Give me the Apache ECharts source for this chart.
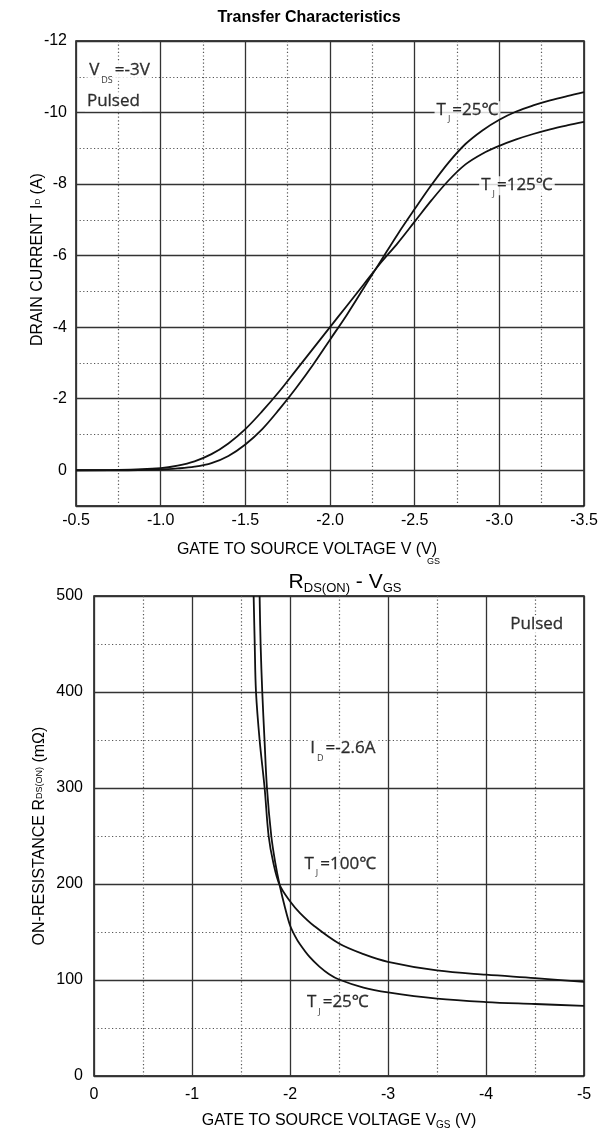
<!DOCTYPE html>
<html>
<head>
<meta charset="utf-8">
<script src="https://cdn.jsdelivr.net/npm/echarts@6/dist/echarts.min.js"></script>
<style>
  html, body { margin: 0; padding: 0; background: #fff; }
  #chart { width: 601px; height: 1131px; }
</style>
</head>
<body>
<div id="chart"></div>
<script>
// transfer characteristics, Id vs Vgs
let vgsTransfer = [-0.5, -0.75, -1.0, -1.1, -1.2, -1.3, -1.4, -1.5, -1.6, -1.7, -1.8, -1.9, -2.0, -2.1, -2.2, -2.3, -2.4, -2.5, -2.6, -2.7, -2.8, -2.9, -3.0, -3.1, -3.2, -3.3, -3.4, -3.5]
let id25 = [0, 0, -0.02, -0.05, -0.1, -0.2, -0.4, -0.72, -1.15, -1.7, -2.3, -2.95, -3.65, -4.35, -5.1, -5.85, -6.6, -7.3, -7.98, -8.6, -9.12, -9.5, -9.8, -10.03, -10.2, -10.34, -10.46, -10.57]
let id125 = [0, -0.01, -0.06, -0.13, -0.25, -0.45, -0.75, -1.15, -1.65, -2.2, -2.8, -3.4, -4.0, -4.6, -5.2, -5.8, -6.35, -6.95, -7.55, -8.1, -8.55, -8.85, -9.07, -9.25, -9.4, -9.53, -9.64, -9.74]

// on-resistance vs Vgs
let vgsR25 = [-1.69, -1.70, -1.717, -1.74, -1.765, -1.809, -1.85, -1.894, -1.95, -2.0, -2.05, -2.1, -2.2, -2.3, -2.4, -2.5, -2.75, -3.0, -3.5, -4.0, -4.5, -5.0]
let r25 = [500, 450, 400, 350, 300, 250, 222, 199, 175, 157, 146, 137.5, 124, 114, 106, 100.5, 92, 87, 80.5, 77, 75, 73]
let vgsR100 = [-1.629, -1.64, -1.653, -1.69, -1.741, -1.782, -1.83, -1.894, -2.0, -2.1, -2.25, -2.5, -2.75, -3.0, -3.5, -4.0, -4.5, -5.0]
let r100 = [500, 450, 400, 350, 300, 250, 222, 199, 182, 170, 156, 138, 127, 119, 110, 105.5, 102, 98]

let transferTicks = [-3.5, -3.0, -2.5, -2.0, -1.5, -1.0, -0.5]
let rdsTicks = [-5, -4, -3, -2, -1, 0]

function zip(xs, ys) {
    return xs.map((x, i) => [x, ys[i]])
}

let font = 'Liberation Sans, Arial, sans-serif'
let noteFont = 'Open Sans, Noto Sans, sans-serif'

let subRich = {
    m: {fontSize: 17, fontFamily: noteFont, color: '#000', lineHeight: 19, verticalAlign: 'top',
        textBorderColor: '#000', textBorderWidth: 0.3},
    s: {fontSize: 9, fontFamily: noteFont, color: '#000', lineHeight: 10, verticalAlign: 'top', padding: [14, 2, 0, 2],
        textBorderWidth: 0},
}

function note(gridIdx, x, y, text) {
    return {
        type: 'scatter',
        xAxisIndex: gridIdx,
        yAxisIndex: gridIdx,
        symbolSize: 0,
        silent: true,
        z: 3,
        data: [[x, y]],
        label: {
            show: true,
            position: 'inside',
            formatter: text,
            color: '#000',
            textBorderWidth: 0,
            backgroundColor: '#fff',
            padding: [0, 2, 0, 2],
            rich: subRich,
        },
    }
}

function curve(gridIdx, xs, ys) {
    return {
        type: 'line',
        xAxisIndex: gridIdx,
        yAxisIndex: gridIdx,
        data: zip(xs, ys),
        showSymbol: false,
        smooth: 0.35,
        silent: true,
        z: 5,
        lineStyle: {color: '#111', width: 1.8},
    }
}

let majorLine = {show: true, lineStyle: {color: '#333', width: 1.3}}
let minorLine = {show: true, lineStyle: {color: '#555', width: 1.2, type: [1.2, 2.4]}}

let chart = echarts.init(document.getElementById('chart'))
chart.setOption({
    animation: false,
    backgroundColor: '#fff',
    title: [
        {
            text: 'Transfer Characteristics',
            left: 304, top: 5, textAlign: 'center',
            textStyle: {fontFamily: font, fontSize: 16, fontWeight: 'bold', color: '#000'},
        },
        {
            text: 'R{s|DS(ON)} - V{s|GS}',
            left: 340, top: 565, textAlign: 'center',
            textStyle: {
                fontFamily: font, fontSize: 21, fontWeight: 'normal', color: '#000',
                rich: {s: {fontFamily: font, fontSize: 13, color: '#000', verticalAlign: 'bottom', padding: [12, 0, 0, 0]}},
            },
        },
    ],
    grid: [
        {left: 76, right: 17, top: 41, height: 465, show: true, borderColor: '#000', borderWidth: 1.4},
        {left: 94, right: 17, top: 596, height: 480, show: true, borderColor: '#000', borderWidth: 1.4},
    ],
    xAxis: [
        {
            gridIndex: 0, type: 'value', min: -3.5, max: -0.5, interval: 0.5, inverse: true,
            axisLine: {show: false}, axisTick: {show: false},
            axisLabel: {margin: 7, fontFamily: font, fontSize: 16, color: '#000',
                formatter: v => transferTicks.includes(v) ? v.toFixed(1) : ''},
            splitLine: majorLine,
            minorTick: {show: false, splitNumber: 2},
            minorSplitLine: minorLine,
            name: 'GATE TO SOURCE VOLTAGE V (V)',
            nameLocation: 'middle', nameGap: 36, nameMoveOverlap: false,
            nameTextStyle: {fontFamily: font, fontSize: 16, color: '#000', padding: [0, 46, 0, 0]},
        },
        {
            gridIndex: 1, type: 'value', min: -5, max: 0, interval: 1, inverse: true,
            axisLine: {show: false}, axisTick: {show: false},
            axisLabel: {margin: 11, fontFamily: font, fontSize: 16, color: '#000',
                formatter: v => rdsTicks.includes(v) ? String(v) : ''},
            splitLine: majorLine,
            minorTick: {show: false, splitNumber: 2},
            minorSplitLine: minorLine,
            name: 'GATE TO SOURCE VOLTAGE V{s|GS} (V)',
            nameLocation: 'middle', nameGap: 36, nameMoveOverlap: false,
            nameTextStyle: {fontFamily: font, fontSize: 16, color: '#000',
                rich: {s: {fontFamily: font, fontSize: 10, color: '#000', verticalAlign: 'bottom', padding: [8, 0, 0, 0]}}},
        },
    ],
    yAxis: [
        {
            gridIndex: 0, type: 'value', min: -12, max: 1, interval: 2, inverse: true,
            axisLine: {show: false}, axisTick: {show: false},
            axisLabel: {margin: 9, fontFamily: font, fontSize: 16, color: '#000', showMaxLabel: false},
            splitLine: majorLine,
            minorTick: {show: false, splitNumber: 2},
            minorSplitLine: minorLine,
            name: 'DRAIN CURRENT I{d|D} (A)',
            nameLocation: 'middle', nameGap: 30, nameMoveOverlap: false,
            nameTextStyle: {fontFamily: font, fontSize: 16, color: '#000', padding: [0, 0, 0, 28],
                rich: {d: {fontFamily: font, fontSize: 8, color: '#000'}}},
        },
        {
            gridIndex: 1, type: 'value', min: 0, max: 500, interval: 100,
            axisLine: {show: false}, axisTick: {show: false},
            axisLabel: {margin: 11, fontFamily: font, fontSize: 16, color: '#000'},
            splitLine: majorLine,
            minorTick: {show: false, splitNumber: 2},
            minorSplitLine: minorLine,
            name: 'ON-RESISTANCE R{d|DS(ON)} (mΩ)',
            nameLocation: 'middle', nameGap: 46, nameMoveOverlap: false,
            nameTextStyle: {fontFamily: font, fontSize: 16, color: '#000',
                rich: {d: {fontFamily: font, fontSize: 9, color: '#000'}}},
        },
    ],
    graphic: [
        {type: 'text', left: 427, top: 557, silent: true,
            style: {text: 'GS', fontFamily: font, fontSize: 9, fill: '#000'}},
    ],
    series: [
        note(0, -0.757, -11.15, '{m|V}{s|DS}{m|=-3V}'),
        note(0, -0.721, -10.3, '{m|Pulsed}'),
        note(0, -2.812, -10.05, '{m|T}{s|J}{m|=25℃}'),
        note(0, -3.104, -7.95, '{m|T}{s|J}{m|=125℃}'),
        curve(0, vgsTransfer, id25),
        curve(0, vgsTransfer, id125),
        note(1, -4.518, 470, '{m|Pulsed}'),
        note(1, -2.539, 340, '{m|I}{s|D}{m|=-2.6A}'),
        note(1, -2.513, 220, '{m|T}{s|J}{m|=100℃}'),
        note(1, -2.488, 76, '{m|T}{s|J}{m|=25℃}'),
        curve(1, vgsR25, r25),
        curve(1, vgsR100, r100),
    ],
})
</script>
</body>
</html>
